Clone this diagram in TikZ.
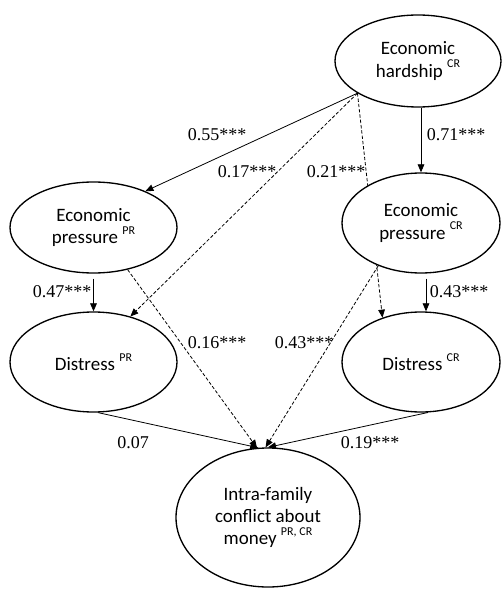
\documentclass[tikz,border=0pt]{standalone}
\usepackage{fontspec}
\setmainfont{Liberation Serif}
\newfontfamily\calfont{Carlito}
\usetikzlibrary{shapes.geometric,arrows.meta,backgrounds}
\newcommand{\ssup}[1]{\raisebox{0.5em}{\fontsize{9}{9}\selectfont #1}}

\tikzset{every picture/.style={line width=0.75pt}}
\tikzset{
  latent/.style={draw, ellipse, fill=white, line width=1pt, inner sep=0pt, align=center,
    font=\calfont\fontsize{14.2}{16.8}\selectfont},
  solidarr/.style={line width=0.6pt, -{Triangle[length=6pt,width=5pt]}},
  dasharr/.style={solidarr, dash pattern=on 2.5pt off 1.5pt},
  coef/.style={inner sep=0pt, font=\fontsize{13.5}{16}\selectfont}
}

\begin{document}
\begin{tikzpicture}[x=0.75pt,y=0.75pt,yscale=-1,xscale=1]
%set diagram left start at 0, and has height of 591
\useasboundingbox (0,0) rectangle (501,591);

%Shape: Ellipse [id:hard]
\node[latent, minimum width=124.5pt, minimum height=69pt] (hard) at (418,61) {Economic\\hardship \ssup{CR}};
%Shape: Ellipse [id:epPR]
\node[latent, minimum width=125.25pt, minimum height=68.25pt] (epPR) at (93.5,227.5) {Economic\\pressure \ssup{PR}};
%Shape: Ellipse [id:epCR]
\node[latent, minimum width=118.5pt, minimum height=75pt] (epCR) at (421,223) {Economic\\pressure \ssup{CR}};
%Shape: Ellipse [id:disPR]
\node[latent, minimum width=125.25pt, minimum height=75pt] (disPR) at (93.5,362) {Distress \ssup{PR}};
%Shape: Ellipse [id:disCR]
\node[latent, minimum width=118.5pt, minimum height=75pt] (disCR) at (421,362) {Distress \ssup{CR}};
%Shape: Ellipse [id:conf]
\node[latent, minimum width=138pt, minimum height=104.25pt] (conf) at (268,517.5) {Intra-family\\conflict about\\money \ssup{PR, CR}};

\begin{scope}[on background layer]
%Straight Lines [id:hardship paths]
\draw[solidarr] (hard.208) -- (epPR.35);
\draw[dasharr] (hard.208) -- (disPR.51);
\draw[dasharr] (hard.208) -- (disCR.131);
\draw[solidarr] (epCR.north |- hard.south) -- (epCR.north);
%Straight Lines [id:pressure paths]
\draw[solidarr, shorten <=3.75pt] (epPR.south) -- (disPR.north);
\draw[solidarr, shorten <=3.75pt] ([xshift=3.75pt]epCR.south) -- ([xshift=3.75pt]disCR.north);
\draw[dasharr] (epPR.309) -- (conf.99);
\draw[dasharr] (epCR.225) -- (conf.92);
%Straight Lines [id:distress paths]
\draw[solidarr] (disPR.275) -- (conf.98);
\draw[solidarr] (disCR.278) -- (conf.90);
\end{scope}

%Coefficients
\node[coef] (c55) at (217,135) {0.55***};
\node[coef] (c17) at (247,172) {0.17***};
\node[coef] (c21) at (336,172) {0.21***};
\node[coef] (c71) at (456,135) {0.71***};
\node[coef] (c47) at (62,292) {0.47***};
\node[coef] (c43r) at (459,292) {0.43***};
\node[coef] (c16) at (217,343) {0.16***};
\node[coef] (c43m) at (304,343) {0.43***};
\node[coef] (c07) at (133,443) {0.07};
\node[coef] (c19) at (370,443) {0.19***};

\end{tikzpicture}
\end{document}
